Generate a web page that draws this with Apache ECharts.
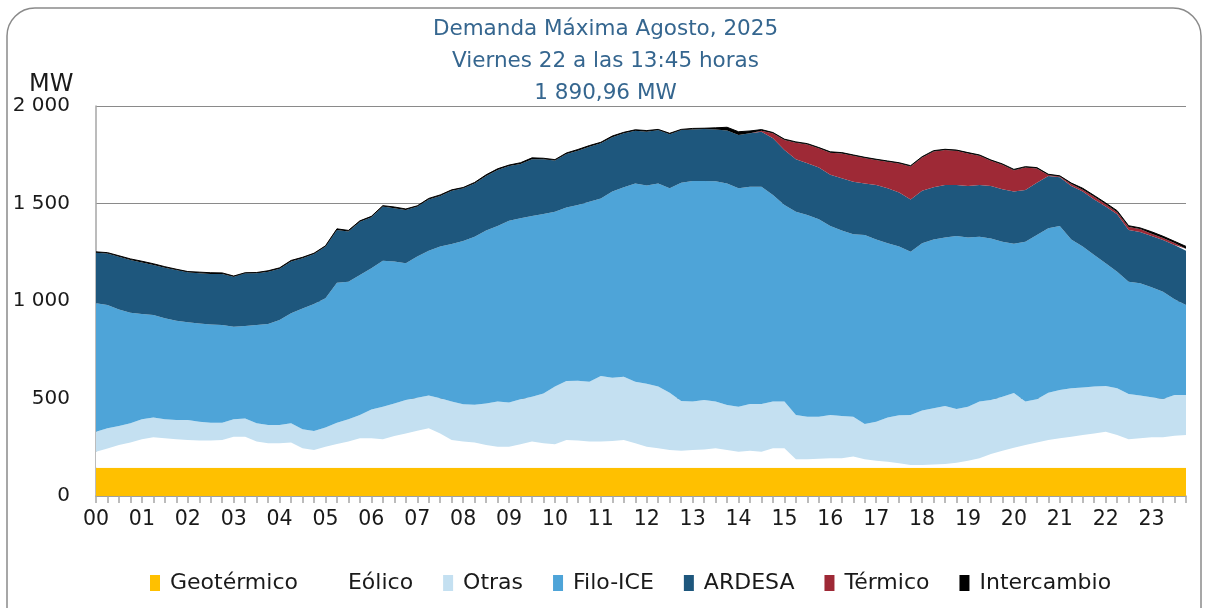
<!DOCTYPE html>
<html>
<head>
<meta charset="utf-8">
<script src="https://cdn.jsdelivr.net/npm/echarts@6/dist/echarts.min.js"></script>
<style>
  html, body { margin: 0; padding: 0; background: #fff; }
  #chart { width: 1211px; height: 608px; }
</style>
</head>
<body>
<div id="chart"></div>
<script>
// horas del eje y cuartos de hora (96 puntos de 15 minutos)
var hourLabels = ['00','01','02','03','04','05','06','07','08','09','10','11',
                  '12','13','14','15','16','17','18','19','20','21','22','23'];
var quarterLabels = ['00','15','30','45'];
var yTicks = [0, 500, 1000, 1500, 2000];

var geotermico = [
  145,145,145,145,145,145,145,145,145,145,145,145,145,145,145,145,
  145,145,145,145,145,145,145,145,145,145,145,145,145,145,145,145,
  145,145,145,145,145,145,145,145,145,145,145,145,145,145,145,145,
  145,145,145,145,145,145,145,145,145,145,145,145,145,145,145,145,
  145,145,145,145,145,145,145,145,145,145,145,145,145,145,145,145,
  145,145,145,145,145,145,145,145,145,145,145,145,145,145,145,145
];
var eolico = [
  82,99,117,129,146,156,151,146,142,139,139,142,159,159,134,125,
  125,129,100,91,108,122,134,151,151,146,163,176,190,202,176,142,
  134,129,117,108,108,120,134,125,120,142,139,135,134,137,142,125,
  108,100,91,87,91,94,100,91,82,87,82,100,100,43,43,46,
  48,48,57,43,36,31,23,14,14,16,19,26,36,48,70,87,
  103,117,129,142,151,159,168,176,185,168,146,151,156,156,164,168
];
var otras = [
  103,103,97,99,102,102,97,99,103,97,92,89,89,94,94,94,
  94,99,97,97,98,109,114,119,148,167,167,171,169,168,180,197,
  191,194,213,231,226,231,230,256,296,303,307,306,336,324,325,316,
  323,316,294,255,248,253,239,231,231,240,245,239,239,227,219,216,
  222,217,205,181,200,227,246,256,279,289,298,275,277,291,277,277,
  280,222,222,243,248,248,244,240,234,239,232,219,205,196,209,205
];
var filoICE = [
  658,632,598,567,540,525,518,509,501,504,504,501,475,474,504,518,
  539,564,620,652,663,718,706,718,724,749,727,701,724,743,778,808,
  838,862,886,901,933,928,927,920,897,890,901,923,911,955,971,1017,
  1016,1042,1048,1120,1131,1123,1130,1136,1120,1114,1114,1060,1008,1043,1034,1012,
  970,951,935,969,935,893,865,838,858,866,864,887,868,846,829,795,
  766,820,842,843,841,764,722,675,629,598,576,576,564,551,491,461
];
var ardesa = [
  260,265,270,270,264,257,260,260,256,257,258,261,257,270,265,268,
  262,265,257,256,265,270,257,274,261,277,274,274,256,263,259,273,
  270,273,280,287,280,279,291,281,262,274,279,282,283,279,277,270,
  276,274,277,270,265,267,266,271,273,274,282,290,282,269,265,265,
  263,268,270,265,279,282,277,268,270,267,269,262,264,265,269,269,
  267,265,269,268,249,274,282,285,291,295,265,263,263,265,278,279
];
var termico = [
  0,0,0,0,0,0,0,0,0,0,0,0,0,0,0,0,
  0,0,0,0,0,0,0,0,0,0,0,0,0,0,0,0,
  0,0,0,0,0,0,0,0,0,0,0,0,0,0,0,0,
  0,0,0,0,0,0,0,0,0,0,5,26,52,85,97,99,
  112,128,133,130,128,136,149,169,170,184,179,175,167,150,129,126,
  110,116,73,5,4,10,10,14,12,10,15,15,12,10,10,10
];
var intercambio = [
  4,4,5,6,7,6,5,4,4,6,7,6,3,3,4,5,
  5,6,5,4,4,6,6,4,5,5,6,5,4,5,6,5,
  4,5,6,6,5,6,7,5,5,5,6,6,5,6,5,5,
  6,3,5,3,5,4,8,17,17,12,6,4,4,4,4,4,
  5,4,4,4,4,4,4,4,4,4,4,4,4,4,4,4,
  4,4,4,4,4,5,7,6,7,8,7,6,10,9,9,12
];

var categories = [];
hourLabels.forEach(function(h) {
  quarterLabels.forEach(function(q) { categories.push(h + ':' + q); });
});

var FONT = 'DejaVu Sans';

function areaSeries(name, data, color) {
  return {
    name: name,
    type: 'line',
    stack: 'total',
    data: data,
    symbol: 'none',
    showSymbol: false,
    smooth: false,
    lineStyle: { width: 0, color: color },
    itemStyle: { color: color, borderWidth: 0 },
    areaStyle: { color: color, opacity: 1 },
    emphasis: { disabled: true }
  };
}

var chart = echarts.init(document.getElementById('chart'), null, { renderer: 'canvas' });

var series = [
  areaSeries('Geotérmico', geotermico, '#FFC000'),
  areaSeries('Eólico', eolico, '#FFFFFF'),
  areaSeries('Otras', otras, '#C4E0F1'),
  areaSeries('Filo-ICE', filoICE, '#4EA4D8'),
  areaSeries('ARDESA', ardesa, '#1E577D'),
  areaSeries('Térmico', termico, '#9E2936'),
  areaSeries('Intercambio', intercambio, '#000000')
];
series[6].lineStyle.width = 1;

chart.setOption({
  animation: false,
  backgroundColor: '#fff',
  title: {
    text: 'Demanda Máxima Agosto, 2025\nViernes 22 a las 13:45 horas\n1 890,96 MW',
    left: 'center',
    top: 8,
    textStyle: {
      fontFamily: FONT,
      fontSize: 21.5,
      fontWeight: 'normal',
      color: '#35668F',
      lineHeight: 32
    }
  },
  graphic: [
    {
      type: 'rect',
      shape: { x: 7, y: 8, width: 1194, height: 640, r: 28 },
      style: { fill: 'none', stroke: '#8a8a8a', lineWidth: 1.5 },
      silent: true
    },
    {
      type: 'text',
      left: 29,
      top: 73,
      style: { text: 'MW', font: '24px "DejaVu Sans"', fill: '#1a1a1a' },
      silent: true
    }
  ],
  legend: {
    left: 150,
    top: 572,
    padding: 0,
    itemGap: 30,
    itemWidth: 10,
    itemHeight: 16,
    icon: 'rect',
    selectedMode: false,
    textStyle: { fontFamily: FONT, fontSize: 22, color: '#1a1a1a', padding: [0, 0, 0, 5] },
    data: ['Geotérmico','Eólico','Otras','Filo-ICE','ARDESA','Térmico','Intercambio']
  },
  grid: { left: 96, right: 25, top: 106, bottom: 112, outerBoundsMode: 'none' },
  xAxis: {
    type: 'category',
    data: categories,
    boundaryGap: false,
    axisLine: { show: true, lineStyle: { color: '#a6a6a6', width: 1.5 } },
    axisTick: { show: true, interval: 0, length: 7, lineStyle: { color: '#a6a6a6', width: 1.5 } },
    axisLabel: {
      interval: 3,
      margin: 13,
      fontFamily: FONT,
      fontSize: 20.5,
      color: '#1a1a1a',
      formatter: function(v) { return v.slice(0, 2); }
    },
    splitLine: { show: false }
  },
  yAxis: {
    type: 'value',
    min: yTicks[0],
    max: yTicks[yTicks.length - 1],
    interval: 500,
    axisLine: { show: true, lineStyle: { color: '#a6a6a6', width: 1.5 } },
    axisTick: { show: false },
    axisLabel: {
      margin: 26,
      fontFamily: FONT,
      fontSize: 20,
      color: '#1a1a1a',
      formatter: function(v) {
        if (v >= 1000) {
          return Math.floor(v / 1000) + ' ' + String(v % 1000).padStart(3, '0');
        }
        return String(v);
      }
    },
    splitLine: { show: true, lineStyle: { color: '#8a8a8a', width: 1.2 } }
  },
  series: series
});
</script>
</body>
</html>
